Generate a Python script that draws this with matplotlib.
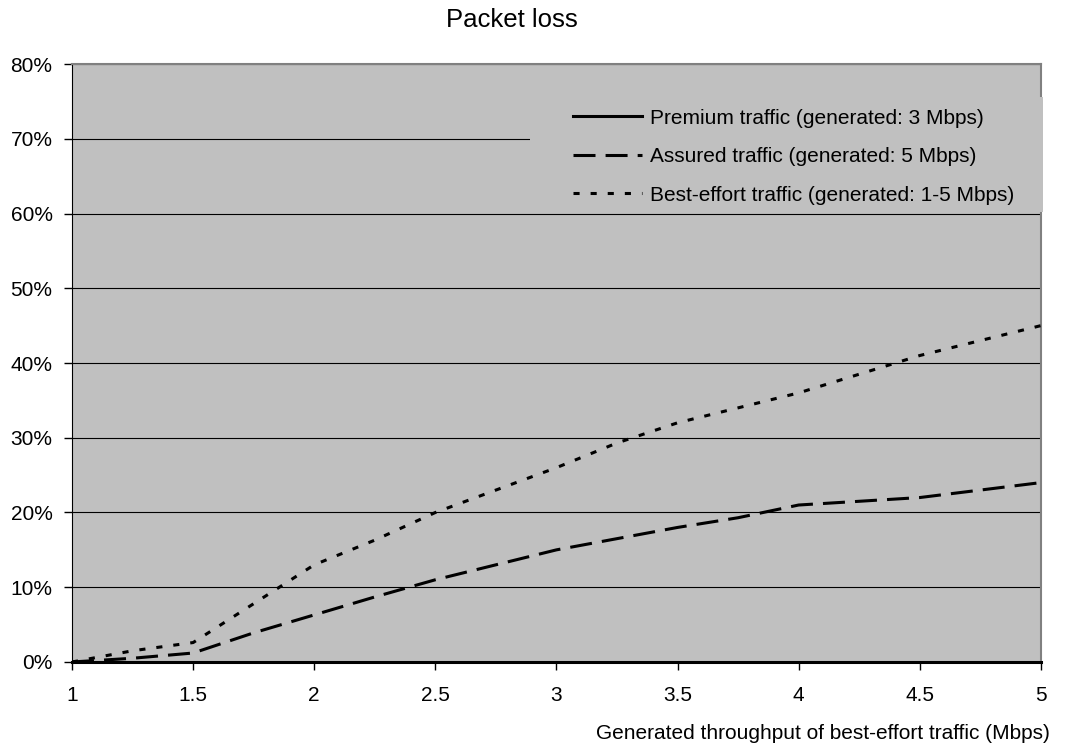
import matplotlib.pyplot as plt
from matplotlib.patches import Rectangle
from matplotlib.ticker import PercentFormatter

plt.rcParams['font.family'] = ['Liberation Sans', 'DejaVu Sans']

# throughput of best-effort traffic (Mbps)
throughput = [1, 1.25, 1.5, 1.75, 2, 2.25, 2.5, 2.75, 3, 3.25, 3.5, 3.75, 4, 4.25, 4.5, 4.75, 5]

# packet loss (%)
premium = [0, 0, 0, 0, 0, 0, 0, 0, 0, 0, 0, 0, 0, 0, 0, 0, 0]
assured = [0, 0.5, 1.2, 3.9, 6.3, 8.7, 11, 13, 15, 16.5, 18, 19.3, 21, 21.5, 22, 23, 24]
best_effort = [0, 1.5, 2.6, 7.8, 13, 16.3, 20, 23, 26, 29.3, 32, 34, 36, 38.5, 41, 43, 45]

labels = ['Premium traffic (generated: 3 Mbps)',
          'Assured traffic (generated: 5 Mbps)',
          'Best-effort traffic (generated: 1-5 Mbps)']

fig = plt.figure(figsize=(10.67, 7.55), dpi=100)
ax = fig.add_axes([0.0675, 0.1232, 0.908, 0.792])
ax.set_facecolor('#c0c0c0')

ax.plot(throughput, premium, color='black', lw=2.2, label=labels[0], clip_on=False, zorder=4)
ax.plot(throughput, assured, color='black', lw=2.2, dashes=(7.2, 3.3), label=labels[1], zorder=3)
ax.plot(throughput, best_effort, color='black', lw=2.2, dashes=(2, 3.6), label=labels[2], zorder=3)

ax.set_xlim(1, 5)
ax.set_ylim(0, 80)
ax.set_xticks([1, 1.5, 2, 2.5, 3, 3.5, 4, 4.5, 5])
ax.set_xticklabels(['1', '1.5', '2', '2.5', '3', '3.5', '4', '4.5', '5'])
ax.set_yticks(range(0, 81, 10))
ax.yaxis.set_major_formatter(PercentFormatter(decimals=0))
ax.tick_params(direction='out', length=6, width=1, labelsize=15)
ax.tick_params(axis='x', pad=11)
ax.tick_params(axis='y', pad=8)
ax.grid(axis='y', color='black', lw=0.8)
ax.set_axisbelow(True)

for s in ['top', 'right']:
    ax.spines[s].set_color('#808080')
    ax.spines[s].set_linewidth(1.5)
for s in ['left', 'bottom']:
    ax.spines[s].set_color('black')

fig.text(0.48, 0.9735, 'Packet loss', ha='center', va='center', fontsize=18.5)
fig.text(0.984, 0.029, 'Generated throughput of best-effort traffic (Mbps)',
         ha='right', va='center', fontsize=15)

# legend area hides the grid behind it
ax.add_patch(Rectangle((0.4727, 0.752), 0.53, 0.193, transform=ax.transAxes,
                       facecolor='#c0c0c0', edgecolor='none', zorder=2.6, clip_on=False))
leg = ax.legend(loc='upper left', bbox_to_anchor=(0.517, 0.9256), borderaxespad=0,
                borderpad=0, fontsize=15, handlelength=3.3, handletextpad=0.38,
                labelspacing=0.94, frameon=False)
leg.set_zorder(5)

fig.savefig('out.png', dpi=100)
